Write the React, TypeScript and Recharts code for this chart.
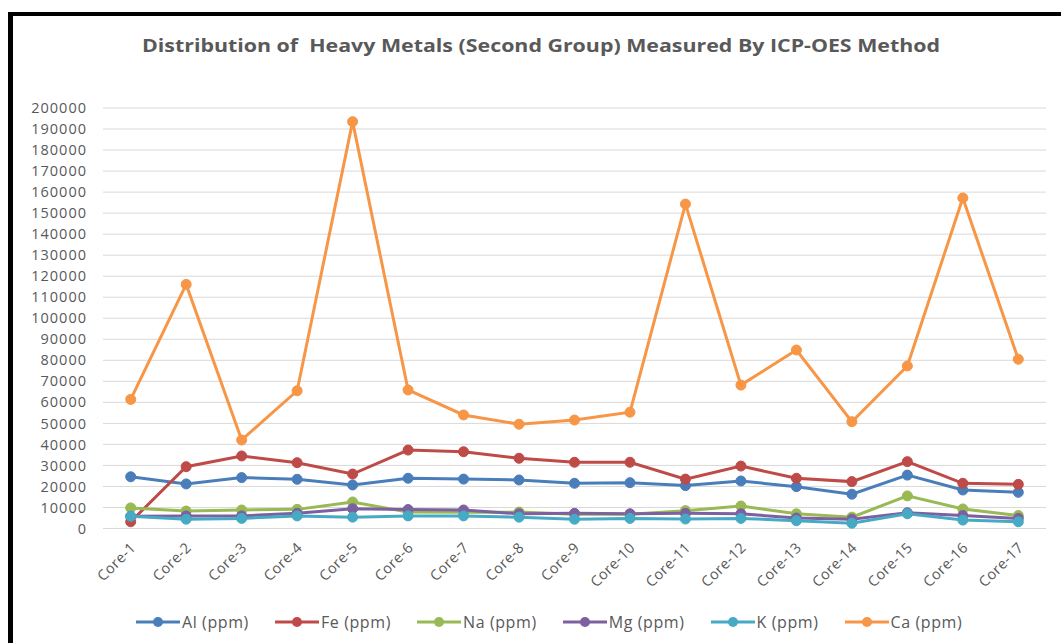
import React from 'react';
import { LineChart, Line, XAxis, YAxis, CartesianGrid } from 'recharts';

const categories = ['Core-1', 'Core-2', 'Core-3', 'Core-4', 'Core-5', 'Core-6', 'Core-7', 'Core-8', 'Core-9', 'Core-10', 'Core-11', 'Core-12', 'Core-13', 'Core-14', 'Core-15', 'Core-16', 'Core-17'];
const al = [24600, 21200, 24200, 23400, 20700, 23900, 23500, 23100, 21500, 21800, 20400, 22600, 19900, 16300, 25400, 18300, 17200];
const fe = [3200, 29400, 34500, 31300, 25900, 37300, 36500, 33400, 31500, 31500, 23500, 29700, 23900, 22300, 31800, 21500, 21000];
const na = [9800, 8300, 8800, 9100, 12600, 7800, 7700, 7800, 6800, 6800, 8500, 10700, 7000, 5400, 15500, 9300, 6200];
const mg = [5800, 6000, 6000, 7200, 9400, 9000, 8800, 7000, 7200, 7000, 7200, 7000, 5000, 4400, 7500, 6200, 4800];
const k = [5800, 4400, 4800, 6000, 5400, 6000, 6000, 5400, 4400, 4800, 4500, 4800, 3700, 2500, 7000, 4000, 3200];
const ca = [61400, 116100, 42100, 65500, 193500, 65900, 54000, 49600, 51600, 55300, 154300, 68200, 84900, 50800, 77300, 157200, 80500];

const yTicks = [0, 10000, 20000, 30000, 40000, 50000, 60000, 70000, 80000, 90000, 100000, 110000, 120000, 130000, 140000, 150000, 160000, 170000, 180000, 190000, 200000];

const seriesKeys = ['al', 'fe', 'na', 'mg', 'k', 'ca'];
const seriesNames = ['Al (ppm)', 'Fe (ppm)', 'Na (ppm)', 'Mg (ppm)', 'K (ppm)', 'Ca (ppm)'];
const seriesColors = ['#4A7EBB', '#BE4B48', '#98B954', '#7D60A0', '#46AAC5', '#F79646'];
const seriesValues = [al, fe, na, mg, k, ca];

const title = 'Distribution of  Heavy Metals (Second Group) Measured By ICP-OES Method';

const data = categories.map((c, i) => {
  const row: Record<string, string | number> = { name: c };
  seriesKeys.forEach((key, s) => {
    row[key] = seriesValues[s][i];
  });
  return row;
});

const FONT = '"Open Sans", sans-serif';
const TEXT = '#595959';

const XTick = (props: any) => {
  const { x, y, payload } = props;
  const ax = x + 6;
  const ay = y + 12;
  return (
    <text
      x={ax}
      y={ay}
      transform={`rotate(-45, ${ax}, ${ay})`}
      textAnchor="end"
      fill={TEXT}
      fontSize={14.5}
      letterSpacing={0.4}
      fontFamily={FONT}
    >
      {payload.value}
    </text>
  );
};

const LegendRow = () => (
  <div
    style={{
      position: 'absolute',
      left: 136,
      top: 611,
      display: 'flex',
      alignItems: 'center',
      fontFamily: FONT,
      fontSize: 16,
      letterSpacing: 0.6,
      color: TEXT,
      whiteSpace: 'nowrap',
    }}
  >
    {seriesNames.map((n, i) => (
      <div key={n} style={{ display: 'flex', alignItems: 'center', marginRight: 26 }}>
        <svg width={44} height={20} style={{ display: 'block' }}>
          <line x1={0} y1={10} x2={44} y2={10} stroke={seriesColors[i]} strokeWidth={3} />
          <circle cx={22} cy={10} r={5} fill={seriesColors[i]} />
        </svg>
        <span style={{ marginLeft: 2 }}>{n}</span>
      </div>
    ))}
  </div>
);

export default function App() {
  return (
    <div style={{ position: 'absolute', left: 0, top: 0, width: 1061, height: 643, background: '#fff', overflow: 'hidden' }}>
      <div
        style={{
          position: 'absolute',
          left: 8,
          top: 12,
          width: 1100,
          height: 700,
          borderLeft: '5px solid #000',
          borderTop: '4px solid #000',
          boxSizing: 'border-box',
        }}
      />
      <svg width={1061} height={80} style={{ position: 'absolute', left: 0, top: 0 }}>
        <text
          x={541}
          y={52}
          textAnchor="middle"
          fontFamily={FONT}
          fontWeight="bold"
          fontSize={17}
          fill={TEXT}
          textLength={798}
          lengthAdjust="spacingAndGlyphs"
          style={{ whiteSpace: 'pre' }}
        >
          {title}
        </text>
      </svg>
      <div style={{ position: 'absolute', left: 0, top: 0 }}>
        <LineChart
          width={1061}
          height={643}
          data={data}
          margin={{ top: 108, right: 15, bottom: 0, left: 0 }}
        >
          <CartesianGrid vertical={false} stroke="#D9D9D9" strokeWidth={1} />
          <XAxis
            dataKey="name"
            axisLine={{ stroke: '#D9D9D9' }}
            tickLine={false}
            interval={0}
            tick={<XTick />}
            height={114.5}
            padding={{ left: 27.7, right: 27.7 }}
          />
          <YAxis
            domain={[0, 200000]}
            ticks={yTicks}
            interval={0}
            axisLine={false}
            tickLine={false}
            width={103}
            tickMargin={10}
            tick={{ fill: TEXT, fontSize: 14.5, fontFamily: FONT, letterSpacing: 1 }}
          />
          {seriesKeys.map((key, i) => (
            <Line
              key={key}
              type="linear"
              dataKey={key}
              name={seriesNames[i]}
              stroke={seriesColors[i]}
              strokeWidth={3}
              dot={{ r: 5, fill: seriesColors[i], stroke: seriesColors[i], strokeWidth: 1 }}
              isAnimationActive={false}
            />
          ))}
        </LineChart>
      </div>
      <LegendRow />
    </div>
  );
}
